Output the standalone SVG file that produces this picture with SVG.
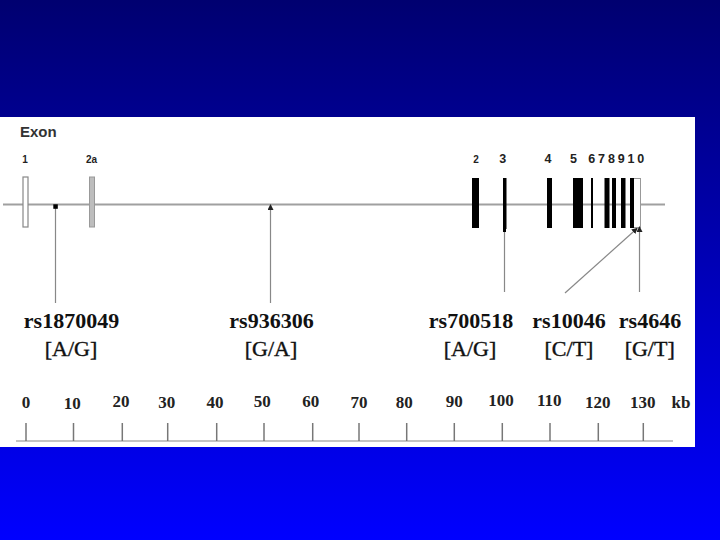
<svg xmlns="http://www.w3.org/2000/svg" width="720" height="540" viewBox="0 0 720 540">
  <defs>
    <linearGradient id="bg" x1="0" y1="0" x2="0" y2="1">
      <stop offset="0" stop-color="#000070"/>
      <stop offset="1" stop-color="#0000FF"/>
    </linearGradient>
    <marker id="arr" viewBox="0 0 6 6" refX="5" refY="3" markerWidth="6" markerHeight="6" orient="auto" markerUnits="userSpaceOnUse">
      <path d="M0,0 L6,3 L0,6 Z" fill="#222"/>
    </marker>
    <style>
      .exlab { font-family: "Liberation Sans", Arial, sans-serif; font-weight: bold; fill: #222; text-anchor: middle; }
      .exon { fill: #000; }
      .snp1 { font-family: "Liberation Serif", "Times New Roman", serif; font-weight: bold; font-size: 22px; fill: #111; text-anchor: middle; }
      .snp2 { font-family: "Liberation Serif", "Times New Roman", serif; font-size: 22px; fill: #111; stroke: #111; stroke-width: 0.4; text-anchor: middle; }
      .sc { font-family: "Liberation Serif", "Times New Roman", serif; font-weight: bold; font-size: 17px; fill: #222; text-anchor: middle; }
      .tick { stroke: #777; stroke-width: 1.5; }
      .lead { stroke: #888; stroke-width: 1.2; fill: none; }
    </style>
  </defs>

  <rect x="0" y="0" width="720" height="540" fill="url(#bg)"/>
  <rect x="0" y="117" width="695" height="330" fill="#fff"/>

  <text x="20" y="136.5" font-family="Liberation Sans, Arial, sans-serif" font-weight="bold" font-size="15" fill="#333">Exon</text>

  <!-- gene backbone -->
  <line x1="3" y1="204.5" x2="665" y2="204.5" stroke="#a0a0a0" stroke-width="2"/>

  <g id="exon-1">
    <rect x="23" y="177" width="5" height="50" fill="#fff" stroke="#888" stroke-width="1.2"/>
    <text class="exlab" x="25" y="163" font-size="10">1</text>
  </g>
  <g id="exon-2a">
    <rect x="89.5" y="177" width="5" height="50" fill="#bdbdbd" stroke="#999" stroke-width="1"/>
    <text class="exlab" x="91.5" y="163" font-size="10">2a</text>
  </g>
  <g id="exon-2">
    <rect class="exon" x="472" y="178" width="7" height="50"/>
    <text class="exlab" x="476" y="163" font-size="10">2</text>
  </g>
  <g id="exon-3">
    <rect class="exon" x="503" y="178" width="3.5" height="51"/>
    <text class="exlab" x="502.7" y="163" font-size="12.5">3</text>
  </g>
  <g id="exon-4">
    <rect class="exon" x="547" y="178" width="5" height="50"/>
    <text class="exlab" x="548" y="163" font-size="12.5">4</text>
  </g>
  <g id="exon-5">
    <rect class="exon" x="573" y="178" width="10" height="50"/>
    <text class="exlab" x="573.5" y="163" font-size="12.5">5</text>
  </g>
  <g id="exon-6">
    <rect class="exon" x="591" y="178" width="2" height="50"/>
  </g>
  <g id="exon-7">
    <rect class="exon" x="604.5" y="178" width="5" height="50"/>
  </g>
  <g id="exon-8">
    <rect class="exon" x="612" y="178" width="4" height="50"/>
  </g>
  <g id="exon-9">
    <rect class="exon" x="621" y="178" width="4.5" height="50"/>
  </g>
  <g id="exon-10">
    <rect x="630.5" y="178.5" width="10" height="49" fill="#fff" stroke="#999" stroke-width="1"/>
    <rect class="exon" x="630" y="178" width="4" height="50"/>
  </g>
  <text class="exlab" x="616.3" y="163" font-size="12.5" textLength="56" lengthAdjust="spacing">678910</text>

  <!-- connectors -->
  <g id="connectors">
    <line class="lead" x1="55.5" y1="206" x2="55.5" y2="303"/>
    <rect x="53.3" y="204.3" width="4.5" height="4.5" fill="#000"/>
    <line class="lead" x1="270.5" y1="303" x2="270.5" y2="205" marker-end="url(#arr)"/>
    <line class="lead" x1="504.5" y1="229" x2="504.5" y2="292"/>
    <rect x="503" y="229" width="3" height="3" fill="#000"/>
    <line class="lead" x1="565" y1="293" x2="637" y2="228.5" marker-end="url(#arr)"/>
    <line class="lead" x1="639.5" y1="292" x2="639.5" y2="227" marker-end="url(#arr)"/>
  </g>

  <g id="snp-rs1870049">
    <text class="snp1" x="71.5" y="328">rs1870049</text>
    <text class="snp2" x="71" y="356">[A/G]</text>
  </g>
  <g id="snp-rs936306">
    <text class="snp1" x="271.5" y="328">rs936306</text>
    <text class="snp2" x="271" y="356">[G/A]</text>
  </g>
  <g id="snp-rs700518">
    <text class="snp1" x="471" y="328">rs700518</text>
    <text class="snp2" x="470" y="356">[A/G]</text>
  </g>
  <g id="snp-rs10046">
    <text class="snp1" x="569" y="328">rs10046</text>
    <text class="snp2" x="569" y="356">[C/T]</text>
  </g>
  <g id="snp-rs4646">
    <text class="snp1" x="650" y="328">rs4646</text>
    <text class="snp2" x="649.7" y="356">[G/T]</text>
  </g>

  <!-- scale -->
  <g id="scale">
    <line x1="16" y1="441" x2="673" y2="441" stroke="#888" stroke-width="1.2"/>
    <line class="tick" x1="26" y1="423" x2="26" y2="441"/>
    <line class="tick" x1="73.5" y1="423" x2="73.5" y2="441"/>
    <line class="tick" x1="122.3" y1="423" x2="122.3" y2="441"/>
    <line class="tick" x1="167.7" y1="423" x2="167.7" y2="441"/>
    <line class="tick" x1="216.7" y1="423" x2="216.7" y2="441"/>
    <line class="tick" x1="264" y1="423" x2="264" y2="441"/>
    <line class="tick" x1="312.7" y1="423" x2="312.7" y2="441"/>
    <line class="tick" x1="359" y1="423" x2="359" y2="441"/>
    <line class="tick" x1="406.7" y1="423" x2="406.7" y2="441"/>
    <line class="tick" x1="454.3" y1="423" x2="454.3" y2="441"/>
    <line class="tick" x1="502.3" y1="423" x2="502.3" y2="441"/>
    <line class="tick" x1="550" y1="423" x2="550" y2="441"/>
    <line class="tick" x1="598.3" y1="423" x2="598.3" y2="441"/>
    <line class="tick" x1="643.3" y1="423" x2="643.3" y2="441"/>
    <text class="sc" x="26" y="408">0</text>
    <text class="sc" x="72.3" y="409">10</text>
    <text class="sc" x="121" y="407">20</text>
    <text class="sc" x="166.7" y="408">30</text>
    <text class="sc" x="215" y="408">40</text>
    <text class="sc" x="262.3" y="407">50</text>
    <text class="sc" x="310.7" y="407">60</text>
    <text class="sc" x="359" y="408">70</text>
    <text class="sc" x="404.3" y="408">80</text>
    <text class="sc" x="454.3" y="407">90</text>
    <text class="sc" x="501" y="406">100</text>
    <text class="sc" x="549.3" y="406">110</text>
    <text class="sc" x="597.7" y="408">120</text>
    <text class="sc" x="642.7" y="408">130</text>
    <text class="sc" x="681" y="408">kb</text>
  </g>
</svg>
